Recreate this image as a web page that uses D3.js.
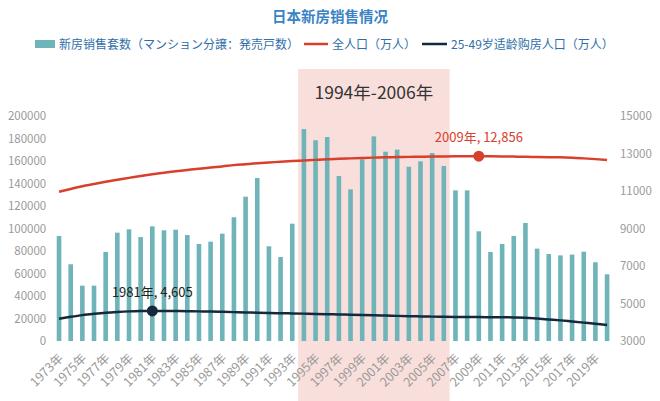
<!DOCTYPE html>
<html><head><meta charset="utf-8">
<script src="https://cdn.jsdelivr.net/npm/d3@7/dist/d3.min.js"></script>
<style>
html,body{margin:0;padding:0;background:#fff;}
svg{display:block;font-family:"Noto Sans CJK SC","Noto Sans",sans-serif;}
</style></head><body>
<svg id="c" width="660" height="401"></svg>
<script>
const years = d3.range(1973, 2021).map(String);
const sales = [93300,68200,49200,49200,79100,96300,99300,92400,101900,98400,
  98900,94200,86200,88300,95400,110000,128300,144900,84200,74700,
  104300,188400,178400,181300,146700,134800,161500,181900,168300,170100,
  154900,159700,167100,155600,133900,133900,97500,79100,86200,93300,
  104900,82100,77300,76100,76800,79400,70000,59300];
const totalPop = [10960,11110,11250,11370,11490,11600,11700,11800,11890,11970,
  12050,12120,12190,12250,12310,12380,12430,12480,12520,12560,
  12600,12630,12660,12690,12720,12740,12760,12780,12800,12810,
  12820,12830,12840,12845,12850,12853,12856,12850,12845,12835,
  12825,12810,12800,12795,12775,12740,12700,12650];
const agePop = [4190,4290,4380,4450,4510,4550,4580,4597,4605,4600,
  4595,4590,4580,4570,4555,4540,4525,4510,4495,4480,
  4470,4460,4445,4430,4415,4400,4385,4370,4355,4340,
  4325,4310,4300,4290,4285,4280,4275,4270,4265,4258,
  4245,4200,4150,4100,4040,3980,3920,3850];
const leftTicks = d3.range(0, 200001, 20000);
const rightTicks = d3.range(3000, 15001, 2000);
const xLabels = years.filter((d,i)=>i%2===0);
const highlightRange = ["1994","2006"];
const highlightLabel = "1994年-2006年";
const title = "日本新房销售情况";
const legendNames = ["新房销售套数（マンション分譲：発売戸数）","全人口（万人）","25-49岁适龄购房人口（万人）"];
const annPoints = [{series:"age", year:"1981"},{series:"total", year:"2009"}];

const barColor = "#6fb4b8", redColor = "#d8402c", darkColor = "#14293b";
const svg = d3.select("#c");
const L = 53.2, R = 612.9, T = 116, B = 341;
const x = d3.scaleBand().domain(years).range([L, R]).padding(0);
const yL = d3.scaleLinear().domain([0, 200000]).range([B, T]);
const yR = d3.scaleLinear().domain([3000, 15000]).range([B, T]);
const cx = d => x(d) + x.bandwidth()/2;

// highlight band
const hx0 = x(highlightRange[0]), hx1 = x(highlightRange[1]) + x.bandwidth();
svg.append("rect").attr("x", hx0).attr("y", 69).attr("width", hx1-hx0).attr("height", 401-69)
  .attr("fill", "#f9dfdc");
svg.append("text").attr("x", (hx0+hx1)/2).attr("y", 99).attr("text-anchor","middle")
  .attr("font-size", 17.5).attr("fill", "#333").text(highlightLabel);

// title
svg.append("text").attr("x", 330).attr("y", 22).attr("text-anchor","middle")
  .attr("font-size", 14.5).attr("font-weight", "bold").attr("fill", "#3a84c4").text(title);

// legend
const lg = svg.append("g").attr("font-size", 12).attr("fill", "#2f6ea8");
lg.append("rect").attr("x", 35).attr("y", 40).attr("width", 20).attr("height", 8).attr("fill", barColor);
lg.append("text").attr("x", 59).attr("y", 48.5).text(legendNames[0]);
lg.append("line").attr("x1", 304).attr("x2", 328).attr("y1", 44).attr("y2", 44).attr("stroke", redColor).attr("stroke-width", 2.5);
lg.append("text").attr("x", 332).attr("y", 48.5).text(legendNames[1]);
lg.append("line").attr("x1", 422).attr("x2", 447).attr("y1", 44).attr("y2", 44).attr("stroke", darkColor).attr("stroke-width", 2.5);
lg.append("text").attr("x", 451).attr("y", 48.5).text(legendNames[2]);

// axes
const axL = svg.append("g").attr("transform", `translate(${L-7},0)`)
  .call(d3.axisLeft(yL).tickValues(leftTicks).tickSize(0).tickPadding(0).tickFormat(d3.format("d")));
const axR = svg.append("g").attr("transform", `translate(${R+7},0)`)
  .call(d3.axisRight(yR).tickValues(rightTicks).tickSize(0).tickPadding(0).tickFormat(d3.format("d")));
[axL, axR].forEach(a => {
  a.select(".domain").remove();
  a.selectAll("text").attr("fill", "#9a9a9a").attr("font-size", 11.5).attr("font-family", "'Noto Sans CJK SC','Noto Sans',sans-serif");
});
const axB = svg.append("g").attr("transform", `translate(0,${B})`)
  .call(d3.axisBottom(x).tickValues(xLabels).tickSize(0).tickPadding(0).tickFormat(d => d + "年"));
axB.select(".domain").remove();
axB.selectAll("text").attr("fill", "#9a9a9a").attr("font-size", 12.5)
  .attr("font-family", "'Noto Sans CJK SC','Noto Sans',sans-serif")
  .attr("text-anchor", "end").attr("dy", null)
  .attr("transform", "translate(5,18) rotate(-45)");

// bars
const bw = 4.6;
svg.append("g").selectAll("rect").data(years).join("rect")
  .attr("x", d => cx(d) - bw/2).attr("width", bw)
  .attr("y", (d,i) => yL(sales[i])).attr("height", (d,i) => B - yL(sales[i]))
  .attr("fill", barColor);

// lines
const lineR = d3.line().x(d => cx(d[0])).y(d => yR(d[1])).curve(d3.curveMonotoneX);
svg.append("path").datum(years.map((y,i)=>[y,totalPop[i]])).attr("d", lineR)
  .attr("fill","none").attr("stroke", redColor).attr("stroke-width", 2.5);
svg.append("path").datum(years.map((y,i)=>[y,agePop[i]])).attr("d", lineR)
  .attr("fill","none").attr("stroke", darkColor).attr("stroke-width", 2.5);

// annotations
const fmt = d3.format(",");
annPoints.forEach(p => {
  const arr = p.series === "total" ? totalPop : agePop;
  const v = arr[years.indexOf(p.year)];
  const col = p.series === "total" ? redColor : darkColor;
  const px = cx(p.year), py = yR(v);
  svg.append("circle").attr("cx", px).attr("cy", py).attr("r", 5.5).attr("fill", col);
  svg.append("text").attr("x", px).attr("y", py - 14).attr("text-anchor","middle")
    .attr("font-size", 13).attr("fill", p.series === "total" ? redColor : "#222")
    .text(`${p.year}年, ${fmt(v)}`);
});
</script></body></html>
